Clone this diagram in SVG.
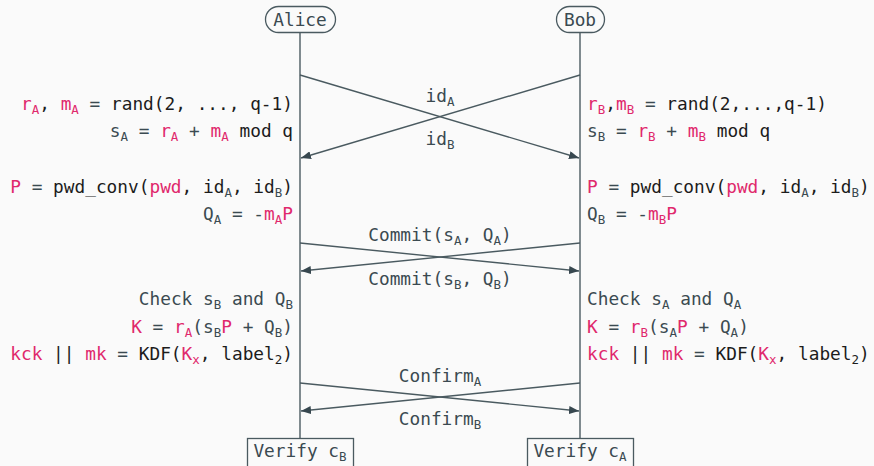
<svg xmlns="http://www.w3.org/2000/svg" width="874" height="466" viewBox="0 0 874 466">
<style>
text{font-family:"DejaVu Sans Mono","Liberation Mono",monospace;font-size:17.8px;fill:#3b4a51;white-space:pre}
.k{fill:#1c1c1c}
.p{fill:#e0286c}
.s{font-size:12.5px}
.mid{text-anchor:middle}
.end{text-anchor:end}
.ln{stroke:#4a5a60;stroke-width:1.4;fill:none}
.box{stroke:#4a5a60;stroke-width:1.3;fill:#fafafa}
</style>
<defs>
<marker id="ah" viewBox="0 0 10 8" refX="10" refY="4" markerWidth="10" markerHeight="8" markerUnits="userSpaceOnUse" orient="auto">
<path d="M0,0 L10,4 L0,8 Z" fill="#37474f"/>
</marker>
</defs>
<rect width="874" height="466" fill="#fafafa"/>
<g id="lifelines">
<line class="ln" x1="300" y1="32" x2="300" y2="438"/>
<line class="ln" x1="580" y1="32" x2="580" y2="438"/>
</g>
<g id="alice">
<rect class="box" x="265.5" y="6.5" width="70" height="26" rx="13"/>
<text class="mid" x="300" y="26">Alice</text>
</g>
<g id="bob">
<rect class="box" x="556.5" y="6.5" width="48" height="26" rx="13"/>
<text class="mid" x="580" y="26">Bob</text>
</g>
<g id="connectors">
<line class="ln" x1="300" y1="75" x2="579" y2="158" marker-end="url(#ah)"/>
<line class="ln" x1="580" y1="75" x2="301" y2="158" marker-end="url(#ah)"/>
<line class="ln" x1="300" y1="243" x2="579" y2="271" marker-end="url(#ah)"/>
<line class="ln" x1="580" y1="243" x2="301" y2="271" marker-end="url(#ah)"/>
<line class="ln" x1="300" y1="383" x2="579" y2="411" marker-end="url(#ah)"/>
<line class="ln" x1="580" y1="383" x2="301" y2="411" marker-end="url(#ah)"/>
</g>
<g id="messages">
<text class="mid" x="440" y="102">id<tspan class="s" dy="3.5">A</tspan></text>
<text class="mid" x="440" y="145">id<tspan class="s" dy="3.5">B</tspan></text>
<text class="mid" x="440" y="241">Commit(s<tspan class="s" dy="3.5">A</tspan><tspan dy="-3.5">, Q</tspan><tspan class="s" dy="3.5">A</tspan><tspan dy="-3.5">)</tspan></text>
<text class="mid" x="440" y="285">Commit(s<tspan class="s" dy="3.5">B</tspan><tspan dy="-3.5">, Q</tspan><tspan class="s" dy="3.5">B</tspan><tspan dy="-3.5">)</tspan></text>
<text class="mid" x="440" y="382">Confirm<tspan class="s" dy="3.5">A</tspan></text>
<text class="mid" x="440" y="425">Confirm<tspan class="s" dy="3.5">B</tspan></text>
</g>
<g id="alice-steps">
<text class="end" x="293" y="110"><tspan class="p">r</tspan><tspan class="p s" dy="3.5">A</tspan><tspan class="k" dy="-3.5">, </tspan><tspan class="p">m</tspan><tspan class="p s" dy="3.5">A</tspan><tspan dy="-3.5"> = </tspan><tspan class="k">rand(2, ..., q-1)</tspan></text>
<text class="end" x="293" y="137">s<tspan class="s" dy="3.5">A</tspan><tspan dy="-3.5"> = </tspan><tspan class="p">r</tspan><tspan class="p s" dy="3.5">A</tspan><tspan dy="-3.5"> + </tspan><tspan class="p">m</tspan><tspan class="p s" dy="3.5">A</tspan><tspan class="k" dy="-3.5"> mod q</tspan></text>
<text class="end" x="293" y="193"><tspan class="p">P</tspan> = <tspan class="k">pwd_conv(</tspan><tspan class="p">pwd</tspan><tspan class="k">, id</tspan><tspan class="s" dy="3.5">A</tspan><tspan class="k" dy="-3.5">, id</tspan><tspan class="s" dy="3.5">B</tspan><tspan class="k" dy="-3.5">)</tspan></text>
<text class="end" x="293" y="220">Q<tspan class="s" dy="3.5">A</tspan><tspan dy="-3.5"> = -</tspan><tspan class="p">m</tspan><tspan class="p s" dy="3.5">A</tspan><tspan class="p" dy="-3.5">P</tspan></text>
<text class="end" x="293" y="305">Check s<tspan class="s" dy="3.5">B</tspan><tspan dy="-3.5"> and Q</tspan><tspan class="s" dy="3.5">B</tspan></text>
<text class="end" x="293" y="333"><tspan class="p">K</tspan> = <tspan class="p">r</tspan><tspan class="p s" dy="3.5">A</tspan><tspan dy="-3.5">(s</tspan><tspan class="s" dy="3.5">B</tspan><tspan class="p" dy="-3.5">P</tspan> + Q<tspan class="s" dy="3.5">B</tspan><tspan dy="-3.5">)</tspan></text>
<text class="end" x="293" y="360"><tspan class="p">kck</tspan><tspan class="k"> || </tspan><tspan class="p">mk</tspan> = <tspan class="k">KDF(</tspan><tspan class="p">K</tspan><tspan class="p s" dy="3.5">x</tspan><tspan class="k" dy="-3.5">, label</tspan><tspan class="k s" dy="3.5">2</tspan><tspan class="k" dy="-3.5">)</tspan></text>
</g>
<g id="bob-steps">
<text x="587" y="110"><tspan class="p">r</tspan><tspan class="p s" dy="3.5">B</tspan><tspan class="k" dy="-3.5">,</tspan><tspan class="p">m</tspan><tspan class="p s" dy="3.5">B</tspan><tspan dy="-3.5"> = </tspan><tspan class="k">rand(2,...,q-1)</tspan></text>
<text x="587" y="137">s<tspan class="s" dy="3.5">B</tspan><tspan dy="-3.5"> = </tspan><tspan class="p">r</tspan><tspan class="p s" dy="3.5">B</tspan><tspan dy="-3.5"> + </tspan><tspan class="p">m</tspan><tspan class="p s" dy="3.5">B</tspan><tspan class="k" dy="-3.5"> mod q</tspan></text>
<text x="587" y="193"><tspan class="p">P</tspan> = <tspan class="k">pwd_conv(</tspan><tspan class="p">pwd</tspan><tspan class="k">, id</tspan><tspan class="s" dy="3.5">A</tspan><tspan class="k" dy="-3.5">, id</tspan><tspan class="s" dy="3.5">B</tspan><tspan class="k" dy="-3.5">)</tspan></text>
<text x="587" y="220">Q<tspan class="s" dy="3.5">B</tspan><tspan dy="-3.5"> = -</tspan><tspan class="p">m</tspan><tspan class="p s" dy="3.5">B</tspan><tspan class="p" dy="-3.5">P</tspan></text>
<text x="587" y="305">Check s<tspan class="s" dy="3.5">A</tspan><tspan dy="-3.5"> and Q</tspan><tspan class="s" dy="3.5">A</tspan></text>
<text x="587" y="333"><tspan class="p">K</tspan> = <tspan class="p">r</tspan><tspan class="p s" dy="3.5">B</tspan><tspan dy="-3.5">(s</tspan><tspan class="s" dy="3.5">A</tspan><tspan class="p" dy="-3.5">P</tspan> + Q<tspan class="s" dy="3.5">A</tspan><tspan dy="-3.5">)</tspan></text>
<text x="587" y="360"><tspan class="p">kck</tspan><tspan class="k"> || </tspan><tspan class="p">mk</tspan> = <tspan class="k">KDF(</tspan><tspan class="p">K</tspan><tspan class="p s" dy="3.5">x</tspan><tspan class="k" dy="-3.5">, label</tspan><tspan class="k s" dy="3.5">2</tspan><tspan class="k" dy="-3.5">)</tspan></text>
</g>
<g id="verify-b">
<rect class="box" x="247.5" y="438.5" width="106" height="34"/>
<text class="mid" x="300" y="457">Verify c<tspan class="s" dy="3.5">B</tspan></text>
</g>
<g id="verify-a">
<rect class="box" x="527.5" y="438.5" width="106" height="34"/>
<text class="mid" x="580" y="457">Verify c<tspan class="s" dy="3.5">A</tspan></text>
</g>
</svg>
